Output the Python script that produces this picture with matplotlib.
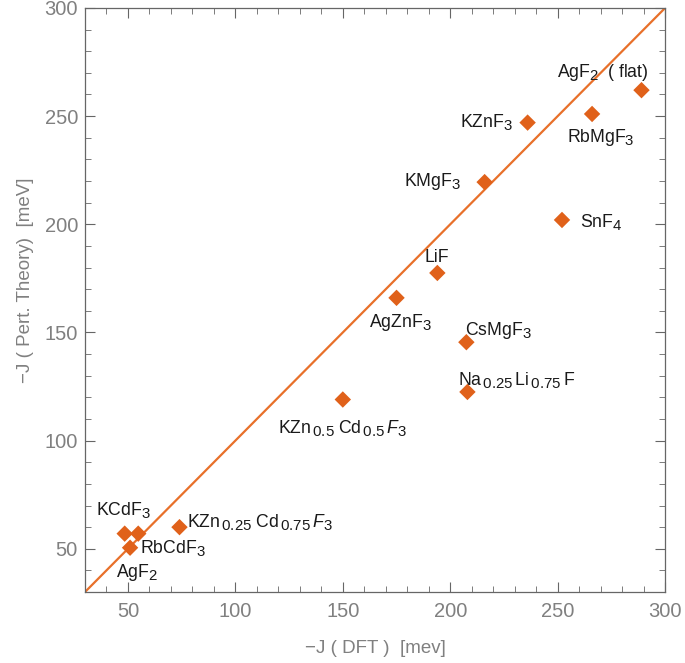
import numpy as np
import matplotlib
matplotlib.use('Agg')
from matplotlib import pyplot as plt
from matplotlib.ticker import MultipleLocator
import matplotlib._mathtext as mtext

plt.rcParams['font.family'] = ['Liberation Sans', 'DejaVu Sans']
plt.rcParams['mathtext.fontset'] = 'custom'
plt.rcParams['mathtext.rm'] = 'Liberation Sans'
plt.rcParams['mathtext.it'] = 'Liberation Sans:italic'
plt.rcParams['mathtext.bf'] = 'Liberation Sans:bold'
# larger subscripts, closer to the original rendering
mtext.SHRINK_FACTOR = 0.85

# data: DFT vs perturbation theory
j_dft = [289, 266, 236, 216, 252, 194, 175, 207.5, 208, 150, 74, 48.5, 54.8, 51]
j_pt = [262, 251, 247, 219.5, 202, 177.5, 166, 145.5, 122.5, 119, 60, 57, 57, 50.5]

labels = [r'$\mathrm{AgF}_2\;$ ( flat)', r'$\mathrm{RbMgF}_3$', r'$\mathrm{KZnF}_3$',
          r'$\mathrm{KMgF}_3$', r'$\mathrm{SnF}_4$', 'LiF', r'$\mathrm{AgZnF}_3$',
          r'$\mathrm{CsMgF}_3$',
          r'$\mathrm{Na}_{\,0.25}\,\mathrm{Li}_{\,0.75}\,\mathrm{F}$',
          r'$\mathrm{KZn}_{\,0.5}\;\mathrm{Cd}_{\,0.5}\,F_3$',
          r'$\mathrm{KZn}_{\,0.25}\;\mathrm{Cd}_{\,0.75}\,F_3$',
          r'$\mathrm{KCdF}_3$', r'$\mathrm{RbCdF}_3$', r'$\mathrm{AgF}_2$']
# label anchor positions (data coords) and alignment
lab_x = [249.5, 254.5, 229, 205, 260.5, 188, 177, 222.5, 203.5, 120, 77.5, 35, 55.5, 44.5]
lab_y = [270, 240, 247.3, 220, 201, 184.5, 154.5, 151, 128, 105.8, 62.4, 68, 50.3, 39]
lab_ha = ['left', 'left', 'right', 'right', 'left', 'left', 'center', 'center',
          'left', 'left', 'left', 'left', 'left', 'left']

orange = '#E0611A'
gray = '#808080'

fig = plt.figure(figsize=(6.85, 6.63), dpi=100)
ax = fig.add_axes([0.124, 0.107, 0.847, 0.881])

ax.plot([30, 300], [30, 300], color='#E8702A', lw=1.6, zorder=1)
ax.scatter(j_dft, j_pt, marker='D', s=70, color=orange, edgecolors='none', zorder=3)

for lx, ly, lab, ha in zip(lab_x, lab_y, labels, lab_ha):
    ax.text(lx, ly, lab, ha=ha, va='center', fontsize=12.7, color='#1a1a1a', zorder=4)

ax.set_xlim(30, 300)
ax.set_ylim(30, 300)
ax.xaxis.set_major_locator(MultipleLocator(50))
ax.yaxis.set_major_locator(MultipleLocator(50))
ax.xaxis.set_minor_locator(MultipleLocator(10))
ax.yaxis.set_minor_locator(MultipleLocator(10))
ax.tick_params(which='both', direction='in', top=True, right=True, color='#666666',
               labelcolor=gray, labelsize=14.5)
ax.tick_params(which='major', length=7, width=0.8)
ax.tick_params(which='minor', length=4, width=0.6)
ax.tick_params(axis='x', which='major', pad=7)
ax.tick_params(axis='y', which='major', pad=5)
for sp in ax.spines.values():
    sp.set_color('#666666')
    sp.set_linewidth(0.9)

ax.set_xlabel('\u2212J ( DFT )  [mev]', color=gray, fontsize=13.5, va='center')
ax.set_ylabel('\u2212J ( Pert. Theory)  [meV]', color=gray, fontsize=13.5, va='center')
ax.xaxis.set_label_coords(0.5, -0.096)
ax.yaxis.set_label_coords(-0.103, 0.534)

fig.savefig('out.png', dpi=100)
plt.close(fig)
